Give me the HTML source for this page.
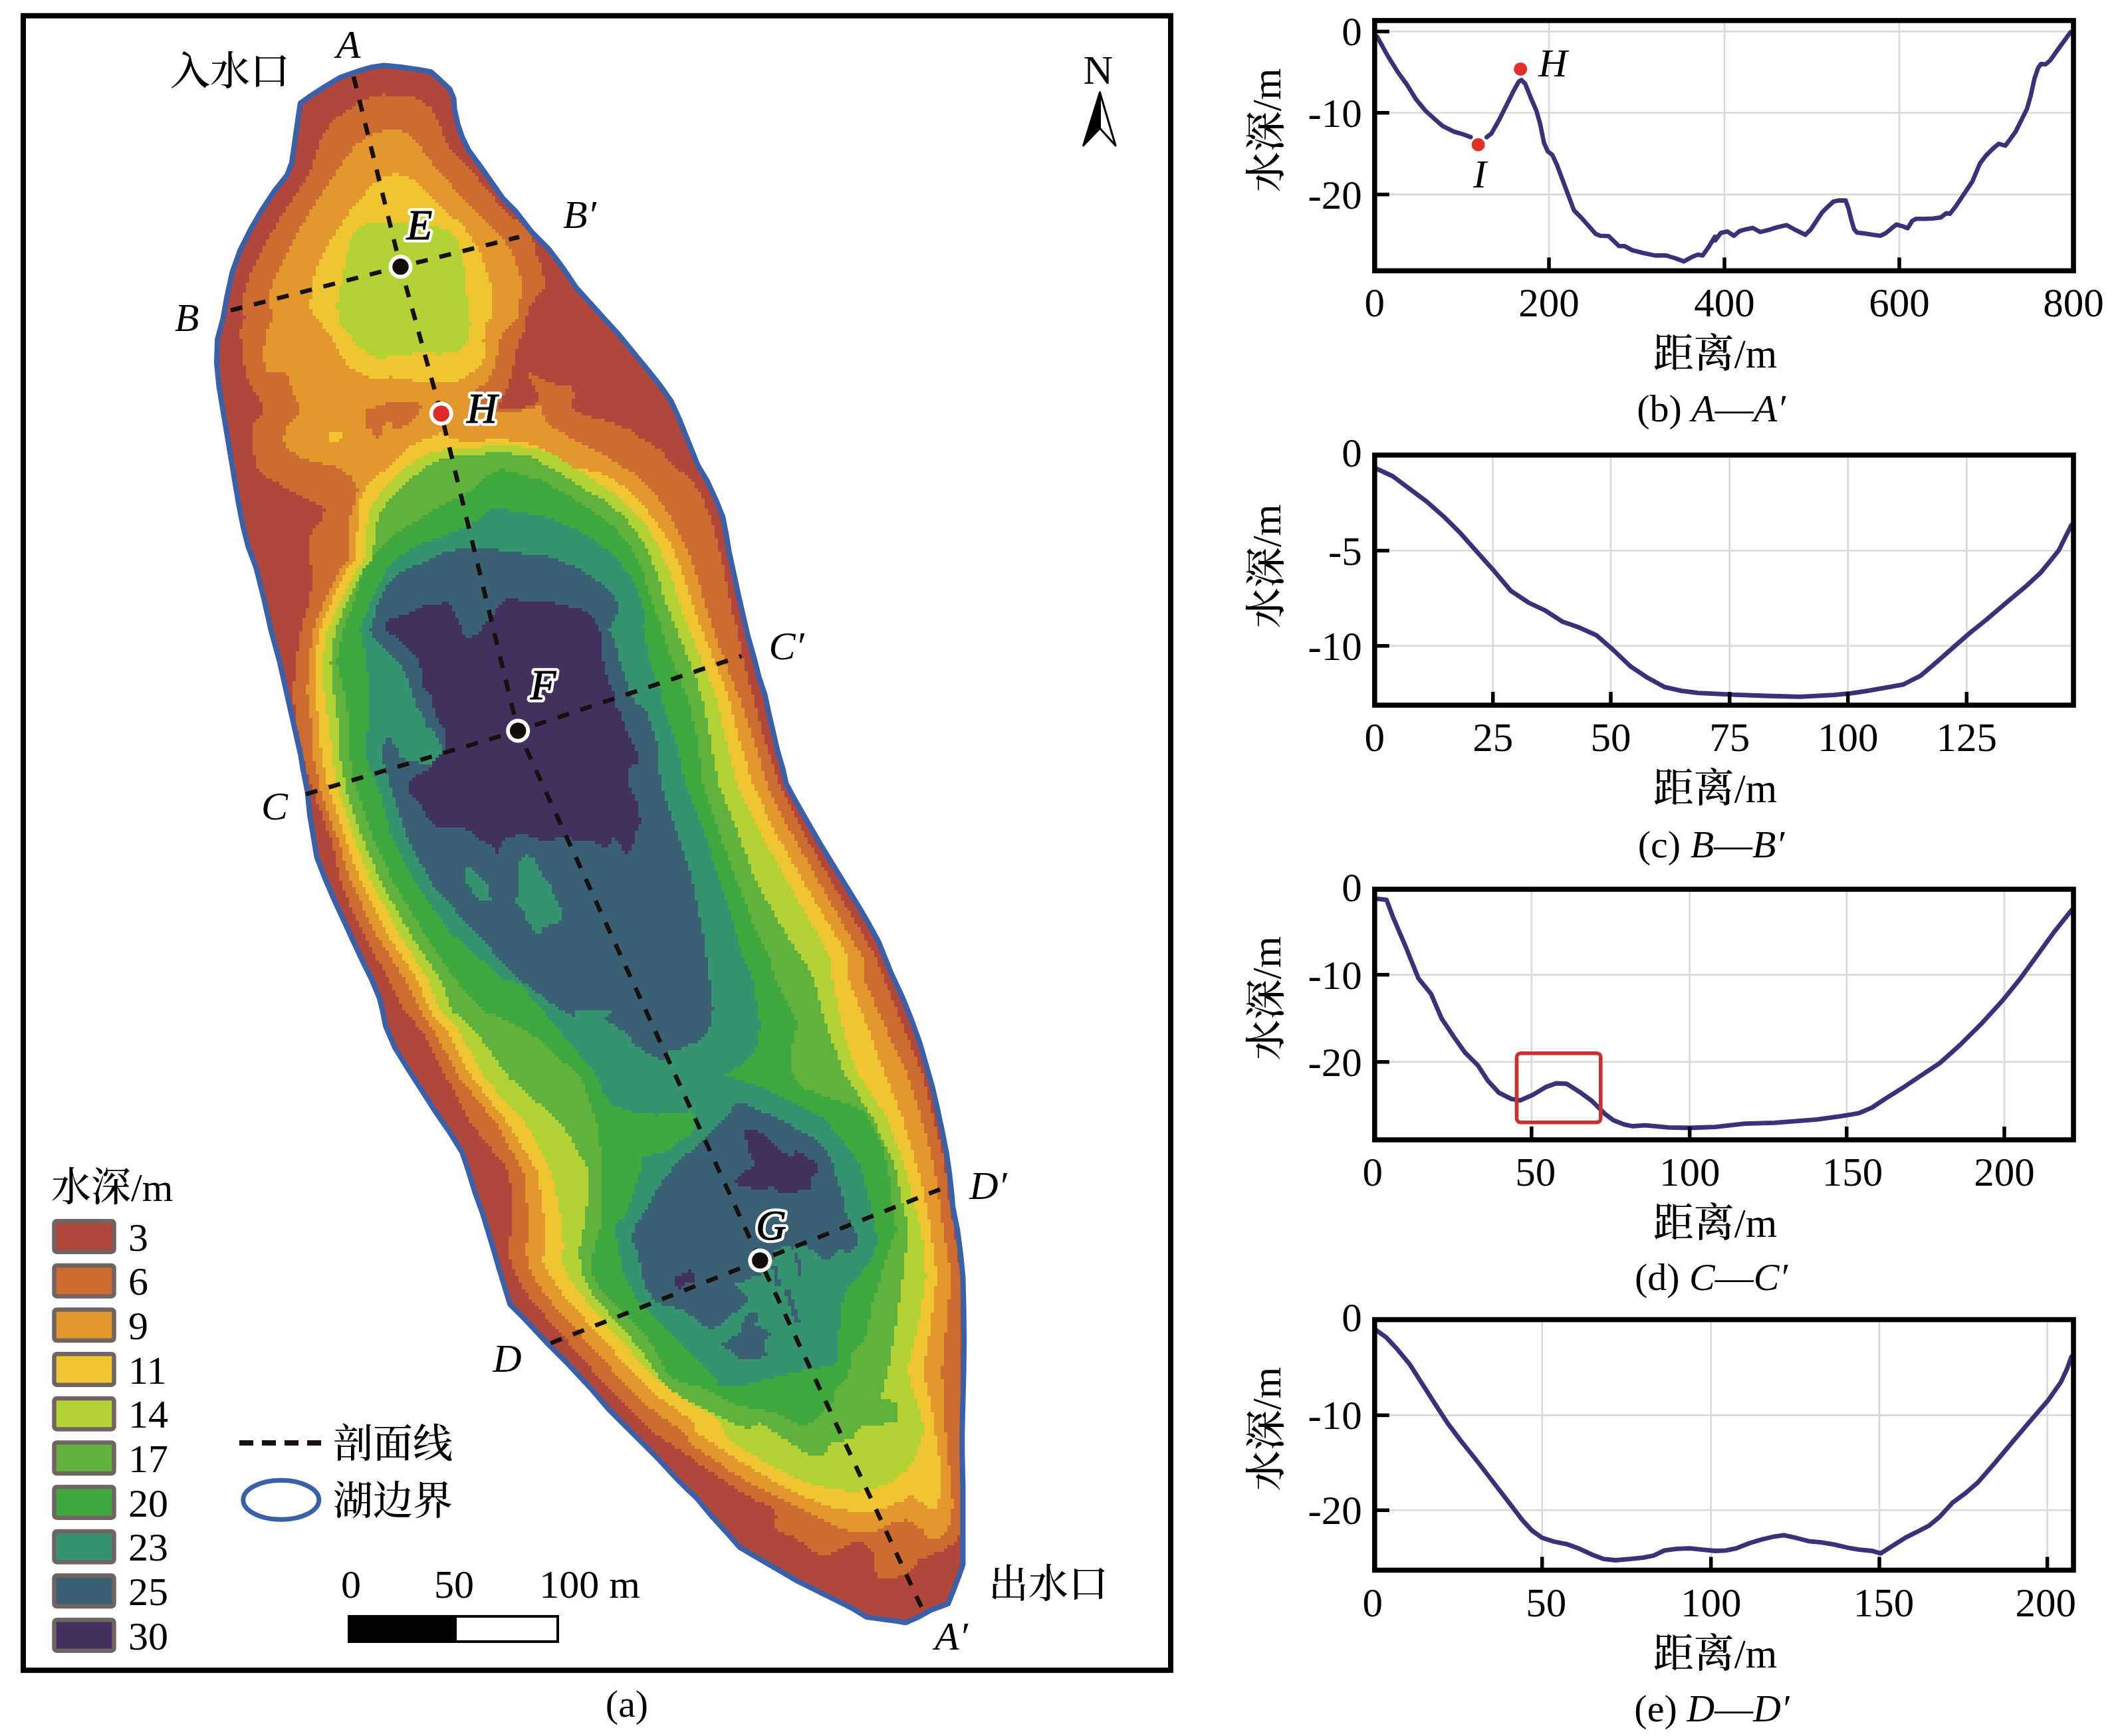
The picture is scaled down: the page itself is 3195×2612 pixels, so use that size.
<!DOCTYPE html>
<html><head><meta charset="utf-8"><title>figure</title>
<style>
html,body{margin:0;padding:0;background:#fff;}
svg{display:block;}
text{font-family:"Liberation Serif","Noto Serif CJK SC",serif;fill:#000;}
.cn{font-family:"Liberation Serif","Noto Serif CJK SC",serif;font-weight:500;}
</style></head><body>
<svg width="3195" height="2612" viewBox="0 0 3195 2612">
<rect width="3195" height="2612" fill="#fff"/>
<g id="map">
<defs><filter id="px" filterUnits="userSpaceOnUse" primitiveUnits="userSpaceOnUse" x="300" y="70" width="1200" height="2400" color-interpolation-filters="sRGB"><feFlood x="302" y="72" width="1" height="1" flood-color="#000"/><feOffset dx="0" dy="0" x="300" y="70" width="5" height="5"/><feTile result="grid"/><feComposite in="SourceGraphic" in2="grid" operator="in"/><feMorphology operator="dilate" radius="2"/></filter><clipPath id="lakeclip"><polygon points="577.8,98.4 601.3,100.7 629.6,104.7 648.4,108.2 660.2,118.8 676.6,134.1 682.5,148.3 683.7,164.7 688.4,185.9 695.5,207.1 704.9,226.0 723.7,251.8 740.2,275.4 756.7,298.9 775.5,317.8 800.1,349.4 826.0,375.3 847.2,403.6 866.0,431.8 887.2,455.4 908.4,478.9 931.9,504.8 953.1,530.7 974.3,556.6 993.1,580.1 1009.6,603.7 1021.4,629.6 1030.8,653.1 1040.2,676.6 1049.6,700.0 1063.7,723.6 1077.8,754.2 1087.2,777.7 1091.9,801.2 1096.6,829.5 1103.7,862.4 1110.8,895.4 1117.8,926.0 1124.9,956.6 1134.3,989.6 1141.4,1017.8 1150.8,1046.1 1155.4,1068.2 1162.5,1098.9 1169.5,1129.5 1177.8,1157.7 1182.5,1178.9 1196.6,1204.8 1215.4,1237.7 1234.3,1270.7 1253.1,1301.3 1271.9,1331.9 1290.8,1362.5 1307.3,1390.8 1321.4,1416.6 1330.8,1440.0 1341.3,1465.9 1357.8,1501.2 1371.9,1536.5 1383.7,1569.5 1393.1,1602.4 1402.5,1635.4 1409.6,1666.0 1416.7,1699.0 1423.7,1734.3 1428.4,1767.2 1432.0,1800.0 1433.1,1815.3 1440.2,1850.6 1444.9,1885.9 1448.4,1921.2 1449.6,1968.3 1450.1,2015.4 1449.6,2062.5 1448.4,2109.6 1447.3,2156.6 1447.3,2180.0 1447.3,2187.1 1448.4,2234.2 1448.4,2304.8 1448.4,2354.2 1442.6,2370.7 1435.5,2389.5 1426.1,2413.1 1400.2,2422.5 1381.4,2433.1 1362.5,2441.3 1348.4,2439.0 1329.6,2436.6 1303.7,2433.1 1282.5,2420.1 1254.2,2406.0 1226.0,2391.9 1197.7,2377.8 1169.5,2361.3 1141.2,2344.8 1113.0,2328.3 1094.2,2307.1 1070.6,2281.2 1047.1,2253.0 1033.1,2240.0 1019.0,2226.1 990.7,2195.5 962.5,2167.2 938.9,2143.7 915.4,2120.1 887.2,2087.2 854.2,2051.9 821.2,2018.9 790.6,1986.0 767.1,1962.4 760.0,1938.9 750.6,1908.3 742.4,1880.0 735.4,1856.6 726.0,1826.0 714.2,1793.1 704.8,1762.5 695.4,1734.2 676.5,1703.6 655.3,1673.0 634.2,1640.1 613.0,1607.1 594.1,1576.5 580.0,1543.6 575.4,1520.0 570.7,1501.4 558.9,1473.1 544.8,1444.9 530.6,1414.3 516.5,1383.7 502.4,1353.1 488.3,1320.1 476.5,1289.5 471.8,1261.2 465.9,1225.9 462.4,1190.6 455.3,1155.3 452.4,1136.6 441.8,1089.6 431.2,1042.5 420.6,995.4 407.7,948.3 397.1,901.2 385.3,854.2 380.0,840.0 373.0,821.4 365.9,793.1 358.9,757.8 353.0,722.5 347.1,687.2 341.2,651.9 335.3,616.6 329.4,581.2 325.9,545.9 327.1,510.6 335.3,480.0 341.2,447.2 349.4,409.6 361.2,376.6 377.7,343.7 394.2,315.4 413.0,287.2 431.8,263.6 438.9,244.8 443.6,211.8 448.3,178.9 451.8,155.3 464.8,145.9 488.3,130.6 511.9,116.5 535.4,108.2 558.9,101.2 577.8,98.4"/></clipPath></defs>
<polygon points="577.8,98.4 601.3,100.7 629.6,104.7 648.4,108.2 660.2,118.8 676.6,134.1 682.5,148.3 683.7,164.7 688.4,185.9 695.5,207.1 704.9,226.0 723.7,251.8 740.2,275.4 756.7,298.9 775.5,317.8 800.1,349.4 826.0,375.3 847.2,403.6 866.0,431.8 887.2,455.4 908.4,478.9 931.9,504.8 953.1,530.7 974.3,556.6 993.1,580.1 1009.6,603.7 1021.4,629.6 1030.8,653.1 1040.2,676.6 1049.6,700.0 1063.7,723.6 1077.8,754.2 1087.2,777.7 1091.9,801.2 1096.6,829.5 1103.7,862.4 1110.8,895.4 1117.8,926.0 1124.9,956.6 1134.3,989.6 1141.4,1017.8 1150.8,1046.1 1155.4,1068.2 1162.5,1098.9 1169.5,1129.5 1177.8,1157.7 1182.5,1178.9 1196.6,1204.8 1215.4,1237.7 1234.3,1270.7 1253.1,1301.3 1271.9,1331.9 1290.8,1362.5 1307.3,1390.8 1321.4,1416.6 1330.8,1440.0 1341.3,1465.9 1357.8,1501.2 1371.9,1536.5 1383.7,1569.5 1393.1,1602.4 1402.5,1635.4 1409.6,1666.0 1416.7,1699.0 1423.7,1734.3 1428.4,1767.2 1432.0,1800.0 1433.1,1815.3 1440.2,1850.6 1444.9,1885.9 1448.4,1921.2 1449.6,1968.3 1450.1,2015.4 1449.6,2062.5 1448.4,2109.6 1447.3,2156.6 1447.3,2180.0 1447.3,2187.1 1448.4,2234.2 1448.4,2304.8 1448.4,2354.2 1442.6,2370.7 1435.5,2389.5 1426.1,2413.1 1400.2,2422.5 1381.4,2433.1 1362.5,2441.3 1348.4,2439.0 1329.6,2436.6 1303.7,2433.1 1282.5,2420.1 1254.2,2406.0 1226.0,2391.9 1197.7,2377.8 1169.5,2361.3 1141.2,2344.8 1113.0,2328.3 1094.2,2307.1 1070.6,2281.2 1047.1,2253.0 1033.1,2240.0 1019.0,2226.1 990.7,2195.5 962.5,2167.2 938.9,2143.7 915.4,2120.1 887.2,2087.2 854.2,2051.9 821.2,2018.9 790.6,1986.0 767.1,1962.4 760.0,1938.9 750.6,1908.3 742.4,1880.0 735.4,1856.6 726.0,1826.0 714.2,1793.1 704.8,1762.5 695.4,1734.2 676.5,1703.6 655.3,1673.0 634.2,1640.1 613.0,1607.1 594.1,1576.5 580.0,1543.6 575.4,1520.0 570.7,1501.4 558.9,1473.1 544.8,1444.9 530.6,1414.3 516.5,1383.7 502.4,1353.1 488.3,1320.1 476.5,1289.5 471.8,1261.2 465.9,1225.9 462.4,1190.6 455.3,1155.3 452.4,1136.6 441.8,1089.6 431.2,1042.5 420.6,995.4 407.7,948.3 397.1,901.2 385.3,854.2 380.0,840.0 373.0,821.4 365.9,793.1 358.9,757.8 353.0,722.5 347.1,687.2 341.2,651.9 335.3,616.6 329.4,581.2 325.9,545.9 327.1,510.6 335.3,480.0 341.2,447.2 349.4,409.6 361.2,376.6 377.7,343.7 394.2,315.4 413.0,287.2 431.8,263.6 438.9,244.8 443.6,211.8 448.3,178.9 451.8,155.3 464.8,145.9 488.3,130.6 511.9,116.5 535.4,108.2 558.9,101.2 577.8,98.4" fill="#b0473a"/>
<g clip-path="url(#lakeclip)"><g filter="url(#px)" shape-rendering="crispEdges">
<rect x="300" y="70" width="1200" height="2400" fill="#b0473a"/>
<polygon points="577.8,142.4 606.0,143.6 629.6,148.3 646.0,160.0 657.8,178.9 664.9,197.7 671.9,216.5 681.4,230.7 700.2,244.8 714.3,263.6 730.8,282.4 747.3,303.6 766.1,322.5 784.9,338.9 800.0,350.7 804.8,377.7 816.6,403.6 818.9,431.8 804.8,450.7 793.0,469.5 790.7,493.0 781.2,511.9 774.2,535.4 771.8,556.6 767.1,570.7 762.4,587.2 753.0,601.3 748.3,613.1 767.1,615.4 786.0,613.1 804.8,608.4 811.8,599.0 804.8,582.5 793.0,566.0 795.4,561.3 809.5,568.4 828.3,575.4 844.8,580.1 861.3,582.5 863.6,596.6 858.9,613.1 875.4,622.5 898.9,629.6 922.5,636.6 946.0,646.0 957.8,655.5 979.0,667.2 997.8,681.4 1011.9,700.0 1042.5,723.6 1059.0,754.2 1070.7,782.4 1077.8,813.0 1087.2,848.3 1094.3,883.6 1101.3,918.9 1110.8,954.3 1117.8,989.6 1127.2,1027.2 1136.6,1060.0 1149.5,1110.6 1173.1,1181.2 1208.4,1251.9 1248.4,1322.5 1290.8,1393.1 1316.7,1440.0 1329.6,1470.6 1357.8,1541.2 1386.1,1611.9 1404.9,1682.5 1421.4,1753.1 1426.1,1800.0 1436.0,1850.6 1444.9,1921.2 1446.3,1991.9 1446.3,2062.5 1444.4,2133.1 1444.4,2180.0 1444.4,2210.6 1444.9,2281.2 1444.9,2309.5 1433.1,2323.6 1419.0,2333.0 1400.2,2340.1 1381.4,2347.2 1376.6,2358.9 1362.5,2368.3 1343.7,2375.4 1324.9,2377.8 1317.8,2366.0 1313.1,2351.9 1313.1,2335.4 1303.7,2323.6 1289.5,2318.9 1277.8,2323.6 1263.7,2330.7 1249.5,2337.7 1233.1,2340.1 1221.3,2333.0 1207.2,2321.3 1193.0,2311.8 1174.2,2304.8 1164.8,2295.4 1169.5,2281.2 1160.1,2267.1 1141.2,2260.1 1117.7,2245.9 1094.2,2231.8 1070.6,2215.3 1047.1,2198.9 1019.0,2179.0 993.1,2162.5 969.5,2143.7 948.4,2122.5 927.2,2101.3 906.0,2077.8 884.8,2054.2 863.6,2030.7 842.4,2004.8 821.2,1981.2 800.1,1957.7 783.6,1934.2 769.5,1901.2 763.6,1880.0 771.9,1833.1 766.0,1762.5 709.5,1691.9 671.8,1621.2 634.2,1550.6 608.3,1520.0 584.8,1473.1 544.8,1402.5 514.2,1331.9 497.7,1261.2 470.6,1190.6 454.8,1136.6 445.3,1089.6 440.6,1042.5 445.3,995.4 452.4,948.3 466.5,901.2 471.2,854.2 462.4,840.0 464.8,816.6 469.5,797.8 483.6,781.3 488.3,764.9 469.5,755.4 450.7,746.0 431.8,736.6 417.7,727.2 398.9,717.8 384.7,698.9 380.0,670.7 377.7,640.1 394.2,623.6 391.8,600.1 377.7,581.2 368.3,557.7 365.9,534.2 361.2,498.9 368.3,480.0 363.6,456.6 370.6,428.4 380.0,404.9 391.8,381.3 403.6,357.8 417.7,334.2 431.8,313.1 446.0,291.9 460.1,268.3 471.8,244.8 478.9,221.2 486.0,202.4 500.1,183.6 516.6,169.5 535.4,157.7 554.2,148.3 577.8,142.4" fill="#cc6c30"/>
<polygon points="594.3,195.3 613.1,200.1 624.9,211.8 639.0,230.7 653.1,249.5 669.6,268.3 686.1,287.2 704.9,306.0 723.7,324.8 742.6,343.7 759.0,362.5 770.8,381.3 780.2,404.9 784.9,428.4 782.6,451.9 777.9,480.0 753.0,507.2 748.3,530.7 743.6,554.2 734.2,573.1 720.0,582.5 710.6,594.3 717.7,606.0 734.2,614.3 748.3,617.8 767.1,619.0 786.0,617.3 804.8,612.6 811.8,608.4 818.9,629.6 828.3,641.3 842.4,648.4 856.6,657.8 875.4,667.2 894.2,676.6 913.1,686.1 931.9,700.0 957.7,714.1 981.3,737.7 1000.1,763.6 1016.6,791.8 1030.7,820.1 1042.5,848.3 1051.9,876.6 1059.0,904.8 1068.4,933.1 1077.8,961.3 1089.6,989.6 1099.0,1017.8 1110.8,1046.1 1115.5,1060.0 1133.1,1110.6 1154.2,1181.2 1189.5,1251.9 1229.6,1322.5 1269.6,1393.1 1297.8,1440.0 1299.0,1470.6 1329.6,1541.2 1362.5,1611.9 1386.1,1682.5 1404.9,1753.1 1412.0,1800.0 1419.0,1850.6 1430.8,1921.2 1423.7,1991.9 1416.7,2062.5 1421.4,2133.1 1423.7,2180.0 1428.4,2210.6 1430.8,2234.2 1433.1,2262.4 1430.8,2286.0 1423.7,2304.8 1414.3,2314.2 1395.5,2314.2 1386.1,2300.1 1371.9,2290.7 1362.5,2286.0 1348.4,2290.7 1331.9,2295.4 1317.8,2304.8 1301.3,2302.4 1282.5,2304.8 1263.7,2300.1 1244.8,2290.7 1226.0,2281.2 1207.2,2271.8 1188.3,2262.4 1164.8,2250.6 1141.2,2238.9 1117.7,2224.7 1094.2,2210.6 1070.6,2194.1 1047.1,2177.7 1019.0,2148.4 995.4,2131.9 971.9,2113.1 950.7,2094.2 929.5,2070.7 908.3,2047.2 887.2,2023.6 866.0,2000.1 844.8,1976.5 823.6,1953.0 807.1,1929.5 793.0,1901.2 791.9,1880.0 795.4,1833.1 787.2,1762.5 747.2,1691.9 690.7,1621.2 653.0,1550.6 631.9,1520.0 608.3,1473.1 563.6,1402.5 530.6,1331.9 507.1,1261.2 482.4,1190.6 471.2,1136.6 468.9,1089.6 461.8,1042.5 464.2,995.4 471.2,948.3 488.9,901.2 513.6,854.2 526.0,840.0 523.6,804.9 526.0,781.3 533.1,757.8 537.8,736.6 530.7,717.8 511.9,706.0 495.4,698.9 474.2,696.6 455.4,689.5 438.9,680.1 424.8,663.6 431.8,642.4 450.7,623.6 450.7,609.5 438.9,586.0 431.8,562.4 398.9,557.7 396.5,534.2 398.9,498.9 410.6,480.0 403.6,447.2 413.0,419.0 427.1,390.7 441.2,362.5 455.4,336.6 469.5,313.1 486.0,289.5 500.1,266.0 516.6,242.4 533.1,221.2 549.5,207.1 570.7,197.7 594.3,195.3" fill="#e3982e"/>
<polygon points="547.2,618.9 570.7,609.5 594.3,604.8 624.9,602.4 634.3,614.2 624.9,628.3 613.1,640.1 594.3,647.2 589.5,635.4 573.1,640.1 573.1,656.6 563.7,658.9 558.9,647.2 549.5,642.4" fill="#cc6c30"/>
<polygon points="464.8,480.0 467.1,451.9 471.8,419.0 478.9,395.4 493.0,369.5 507.2,346.0 523.6,322.5 540.1,301.3 556.6,282.4 573.1,268.3 591.9,261.3 610.7,263.6 629.6,275.4 646.0,291.9 662.5,308.3 679.0,324.8 695.5,338.9 709.6,357.8 721.4,379.0 730.8,402.5 737.9,428.4 740.2,451.9 737.9,480.0 729.5,488.3 727.1,511.9 729.5,535.4 724.7,549.5 710.6,558.9 698.9,570.7 675.3,575.4 651.8,577.8 640.0,575.4 613.1,571.8 587.2,567.1 566.0,571.8 547.2,562.4 526.0,553.0 511.9,534.2 500.1,510.6 483.6,487.1 464.8,463.5" fill="#efc631"/>
<polygon points="662.5,651.9 676.6,658.9 700.2,666.0 723.7,663.6 747.3,658.9 804.8,669.6 828.3,683.7 851.9,700.0 910.7,714.1 938.9,733.0 962.4,754.2 981.3,777.7 997.8,801.2 1011.9,824.8 1021.3,848.3 1030.7,871.9 1037.8,895.4 1044.8,918.9 1054.3,942.5 1063.7,966.0 1073.1,989.6 1082.5,1013.1 1091.9,1036.6 1099.0,1060.0 1111.9,1110.6 1133.1,1181.2 1166.0,1251.9 1206.0,1322.5 1248.4,1393.1 1276.6,1440.0 1275.4,1470.6 1303.7,1541.2 1329.6,1611.9 1357.8,1682.5 1379.0,1753.1 1390.8,1800.0 1400.2,1850.6 1409.6,1921.2 1400.2,1991.9 1388.4,2062.5 1404.9,2133.1 1409.6,2180.0 1414.3,2198.9 1416.7,2222.4 1414.3,2245.9 1409.6,2267.1 1400.2,2271.8 1381.4,2257.7 1369.6,2248.3 1357.8,2257.7 1341.3,2264.8 1324.9,2271.8 1306.0,2276.5 1282.5,2274.2 1258.9,2269.5 1235.4,2262.4 1211.9,2253.0 1188.3,2241.2 1164.8,2229.5 1141.2,2215.3 1117.7,2201.2 1094.2,2187.1 1070.6,2170.6 1047.1,2154.1 1040.2,2136.6 1016.6,2120.1 993.1,2103.7 971.9,2084.8 950.7,2063.6 931.9,2042.4 910.7,2018.9 889.5,1995.4 868.3,1971.8 847.1,1948.3 830.7,1924.7 816.5,1896.5 820.1,1880.0 819.0,1833.1 808.4,1762.5 766.0,1691.9 709.5,1621.2 671.8,1550.6 646.0,1520.0 627.2,1473.1 580.1,1402.5 544.8,1331.9 518.9,1261.2 495.3,1190.6 483.0,1136.6 480.7,1089.6 473.6,1042.5 473.6,995.4 480.7,948.3 500.7,901.2 523.0,854.2 535.4,840.0 537.8,793.1 540.1,757.8 549.5,734.3 570.7,713.1 594.3,694.2 613.1,675.4 629.6,663.6 648.4,658.9 662.5,651.9" fill="#efc631"/>
<polygon points="493.0,649.5 516.6,647.2 516.6,656.6 507.2,666.0 495.4,666.0" fill="#efc631"/>
<polygon points="502.4,480.0 507.2,456.6 511.9,433.1 516.6,409.6 521.3,386.0 526.0,362.5 535.4,346.0 549.5,336.6 570.7,334.2 594.3,335.4 606.0,334.2 624.9,333.1 643.7,336.6 657.8,341.3 671.9,346.0 686.1,357.8 693.1,376.6 697.8,400.2 700.2,423.7 702.5,447.2 704.9,480.0 708.3,488.3 703.6,511.9 694.1,526.0 677.7,530.7 658.8,533.1 640.0,530.7 629.6,531.8 594.3,534.2 570.7,538.9 554.2,531.8 535.4,517.7 526.0,501.2 511.9,487.1 507.2,463.5" fill="#b3d236"/>
<polygon points="676.6,675.4 700.2,675.4 723.7,673.1 747.3,668.3 770.8,670.7 825.9,678.8 854.2,697.7 882.4,714.1 910.7,733.0 936.6,751.8 957.7,773.0 974.2,794.2 988.3,817.7 1000.1,843.6 1009.5,867.2 1016.6,890.7 1023.7,914.2 1033.1,937.8 1042.5,961.3 1051.9,984.9 1061.3,1008.4 1070.7,1031.9 1080.2,1060.0 1090.7,1110.6 1109.5,1181.2 1142.5,1251.9 1182.5,1322.5 1222.5,1393.1 1248.4,1440.0 1251.9,1470.6 1266.0,1541.2 1287.2,1611.9 1334.3,1682.5 1360.2,1753.1 1371.9,1800.0 1386.1,1850.6 1393.1,1921.2 1381.4,1991.9 1364.9,2062.5 1386.1,2133.1 1390.8,2151.8 1383.7,2173.0 1376.6,2191.8 1364.9,2210.6 1348.4,2224.7 1329.6,2234.2 1306.0,2241.2 1282.5,2243.6 1258.9,2241.2 1235.4,2236.5 1211.9,2229.5 1188.3,2220.0 1164.8,2208.3 1141.2,2194.1 1117.7,2180.0 1094.2,2163.5 1080.2,2134.3 1054.3,2120.1 1030.8,2106.0 1007.2,2089.5 986.0,2073.1 967.2,2054.2 948.4,2033.0 927.2,2009.5 908.3,1988.3 889.5,1967.1 870.7,1943.6 854.2,1920.0 842.4,1896.5 848.4,1880.0 843.7,1833.1 829.5,1762.5 791.9,1691.9 728.3,1621.2 690.7,1550.6 662.5,1520.0 643.6,1473.1 598.9,1402.5 561.2,1331.9 533.0,1261.2 509.5,1190.6 499.5,1136.6 494.8,1089.6 487.7,1042.5 485.4,995.4 492.4,948.3 514.8,901.2 537.2,854.2 549.5,840.0 551.9,793.1 556.6,764.9 570.7,743.7 589.5,722.5 610.7,703.7 629.6,689.5 653.1,680.1 676.6,675.4" fill="#b3d236"/>
<polygon points="681.4,687.2 704.9,684.8 728.4,682.5 752.0,680.1 795.3,685.9 825.9,702.4 854.2,718.9 882.4,737.7 910.7,754.2 934.2,773.0 953.0,794.2 967.2,815.4 978.9,838.9 988.3,862.4 995.4,886.0 1002.5,909.5 1011.9,933.1 1021.3,956.6 1030.7,980.2 1040.1,1003.7 1049.5,1027.2 1059.0,1060.0 1068.3,1110.6 1081.3,1181.2 1109.5,1251.9 1135.4,1322.5 1175.0,1393.1 1205.1,1440.0 1223.6,1470.6 1242.5,1541.2 1268.4,1611.9 1313.1,1682.5 1346.0,1753.1 1355.5,1800.0 1367.2,1850.6 1357.8,1921.2 1348.4,1991.9 1336.6,2062.5 1324.9,2104.9 1348.4,2109.6 1348.4,2133.1 1353.1,2140.0 1329.6,2142.4 1306.0,2144.7 1289.5,2149.4 1282.5,2163.5 1258.9,2170.6 1244.8,2173.0 1242.5,2187.1 1226.0,2191.8 1207.2,2184.7 1188.3,2170.6 1164.8,2154.1 1141.2,2140.0 1127.3,2150.7 1099.0,2139.0 1073.1,2127.2 1047.2,2113.1 1023.7,2101.3 1004.9,2089.5 990.7,2073.1 979.0,2051.9 962.5,2030.7 943.7,2007.1 924.8,1986.0 906.0,1964.8 887.2,1941.2 873.0,1910.6 871.9,1880.0 881.3,1833.1 886.0,1762.5 846.0,1691.9 766.0,1621.2 714.2,1550.6 678.9,1520.0 662.5,1473.1 615.4,1402.5 575.4,1331.9 544.8,1261.2 521.2,1190.6 511.3,1136.6 508.9,1089.6 501.8,1042.5 497.1,995.4 504.2,948.3 524.2,901.2 547.7,854.2 561.3,840.0 563.7,797.8 573.1,769.6 587.2,750.7 606.0,731.9 624.9,715.4 641.3,701.3 660.2,691.9 681.4,687.2" fill="#60b23c"/>
<polygon points="756.6,705.9 816.5,723.6 844.7,740.0 873.0,756.5 901.2,775.3 924.8,794.2 943.6,815.4 955.4,836.6 967.2,860.1 974.2,883.6 981.3,907.2 990.7,930.7 997.8,954.3 1004.8,977.8 1014.2,1001.3 1023.7,1024.9 1033.1,1048.4 1037.8,1060.0 1048.3,1110.6 1057.7,1181.2 1081.3,1251.9 1107.2,1322.5 1134.5,1393.1 1158.0,1440.0 1164.8,1470.6 1200.1,1541.2 1188.3,1588.3 1188.3,1611.9 1207.2,1635.4 1240.1,1649.5 1301.3,1670.7 1313.1,1694.3 1329.6,1729.6 1339.0,1776.6 1341.3,1800.0 1341.3,1815.3 1348.4,1850.6 1334.3,1885.9 1324.9,1921.2 1313.1,1956.6 1306.0,1991.9 1301.3,2015.4 1282.5,2034.2 1279.0,2056.6 1272.4,2073.1 1255.9,2094.5 1252.6,2109.1 1239.4,2125.6 1222.9,2139.0 1206.5,2145.6 1190.0,2139.0 1173.5,2128.9 1148.8,2122.3 1124.1,2117.3 1099.3,2111.0 1074.6,2095.9 1049.9,2086.0 1033.1,2082.5 1014.3,2075.4 1000.2,2063.6 990.7,2040.1 976.6,2016.6 957.8,1995.4 938.9,1976.5 920.1,1957.7 901.3,1938.9 889.5,1910.6 893.1,1880.0 907.2,1833.1 907.2,1762.5 897.8,1691.9 874.3,1621.2 794.2,1550.6 726.0,1520.0 683.7,1473.1 636.6,1402.5 594.2,1331.9 561.2,1261.2 537.7,1190.6 525.4,1136.6 525.4,1089.6 518.3,1042.5 506.6,995.4 516.0,948.3 534.8,901.2 545.7,858.5 568.3,828.3 590.9,805.7 621.1,786.9 651.2,768.1 681.3,753.0 711.5,737.9 730.3,715.3 756.6,705.9" fill="#3fa940"/>
<polygon points="737.8,764.3 756.6,766.2 811.8,775.3 840.0,784.8 865.9,796.5 891.8,810.7 915.4,829.5 934.2,848.3 948.3,867.2 957.7,886.0 964.8,904.8 969.5,923.7 967.2,942.5 971.9,966.0 976.6,989.6 983.6,1013.1 993.1,1036.6 997.8,1060.0 1015.3,1110.6 1031.8,1181.2 1060.1,1251.9 1081.3,1322.5 1104.8,1393.1 1116.6,1440.0 1131.8,1470.6 1143.6,1541.2 1141.2,1564.8 1131.8,1586.0 1113.0,1602.4 1089.5,1618.9 1117.7,1626.0 1146.0,1635.4 1169.5,1647.2 1193.0,1658.9 1216.6,1670.7 1240.1,1682.5 1258.9,1706.0 1277.8,1729.6 1294.3,1753.1 1306.0,1800.0 1313.1,1827.1 1320.2,1869.5 1310.7,1897.7 1289.5,1921.2 1270.7,1944.8 1263.7,1980.1 1261.3,2015.4 1258.9,2050.7 1235.4,2057.8 1207.2,2062.5 1178.9,2069.5 1150.7,2076.6 1117.7,2083.7 1084.7,2086.0 1066.1,2061.3 1047.2,2042.4 1028.4,2026.0 1009.6,2009.5 990.7,1990.7 974.3,1971.8 957.8,1953.0 946.0,1934.2 936.6,1910.6 931.9,1887.1 927.2,1863.5 924.8,1840.0 940.2,1833.1 963.7,1762.5 966.1,1738.9 987.3,1736.6 1006.1,1729.5 1024.9,1715.4 1040.0,1706.0 1048.5,1691.9 1040.0,1670.7 1022.6,1675.4 987.3,1677.7 949.6,1673.0 921.4,1663.6 907.2,1644.8 900.2,1621.2 841.3,1550.6 782.5,1480.0 756.6,1473.1 676.6,1402.5 627.2,1331.9 589.5,1261.2 570.7,1190.6 548.9,1136.6 553.6,1089.6 556.0,1042.5 551.3,995.4 541.9,948.3 558.3,901.2 579.6,858.5 602.2,835.9 628.6,820.8 658.7,809.5 688.9,798.2 719.0,783.1 737.8,764.3" fill="#35946f"/>
<polygon points="671.0,830.6 700.0,824.6 741.6,826.4 777.0,832.0 807.0,834.0 830.6,838.9 854.2,848.3 877.7,860.1 896.5,871.9 913.0,886.0 927.1,902.5 929.5,918.9 922.4,933.1 915.4,947.2 924.8,966.0 929.5,984.9 934.2,1003.7 941.3,1022.5 948.3,1041.4 955.4,1060.0 970.6,1063.5 987.1,1110.6 994.2,1181.2 1017.7,1251.9 1041.2,1322.5 1055.4,1393.1 1062.4,1440.0 1056.5,1400.0 1063.6,1447.1 1068.3,1482.4 1073.0,1517.7 1070.6,1541.2 1054.1,1564.8 1023.5,1578.9 1000.0,1583.6 1001.3,1595.5 978.7,1587.9 956.1,1572.9 941.1,1554.0 918.5,1539.0 895.9,1531.5 862.0,1527.7 843.7,1520.0 780.2,1473.1 714.3,1402.5 650.7,1331.9 613.0,1261.2 589.5,1190.6 572.5,1132.0 584.0,1108.0 600.7,1127.0 603.0,1141.0 640.0,1150.0 669.0,1141.0 660.0,1113.0 652.5,1099.0 643.1,1094.3 636.0,1077.8 626.6,1061.3 619.5,1042.5 612.5,1018.9 603.1,1000.1 588.9,986.0 579.5,976.6 565.4,962.4 556.0,948.3 560.7,938.9 565.4,913.0 577.2,891.8 588.9,870.6 612.5,854.2 647.8,842.4" fill="#3a6073"/>
<polygon points="1011.0,1758.0 1030.6,1739.0 1047.0,1725.0 1066.0,1706.0 1094.0,1678.0 1106.0,1661.0 1125.0,1661.0 1141.0,1671.0 1165.0,1680.0 1188.0,1692.0 1212.0,1706.0 1235.0,1720.0 1247.0,1739.0 1254.0,1753.0 1259.0,1777.0 1268.0,1800.0 1273.0,1827.0 1289.0,1858.0 1289.0,1874.0 1280.0,1884.0 1259.0,1881.0 1249.0,1893.0 1235.0,1893.0 1226.0,1884.0 1207.0,1874.0 1193.0,1879.0 1179.0,1874.0 1165.0,1884.0 1160.0,1902.0 1141.0,1919.0 1122.0,1926.0 1106.0,1933.0 1118.0,1945.0 1127.0,1959.0 1113.0,1968.0 1099.0,1980.0 1085.0,1992.0 1070.0,1999.0 1056.0,1992.0 1042.0,1982.0 1023.0,1968.0 1005.0,1967.0 986.0,1958.0 977.0,1944.0 969.0,1934.0 965.0,1911.0 960.0,1887.0 951.0,1868.0 955.0,1840.0 964.0,1833.0 985.0,1795.0" fill="#3a6073"/>
<polygon points="1084.7,2024.8 1098.9,2013.1 1115.3,2006.0 1117.7,1987.2 1127.1,1973.0 1141.2,1975.4 1136.5,1991.9 1150.7,2001.3 1162.4,2008.3 1150.7,2017.8 1153.0,2038.9 1141.2,2046.0 1110.6,2046.0 1103.6,2034.2" fill="#3a6073"/>
<polygon points="1194.2,1883.6 1200.1,1883.6 1207.2,1921.2 1201.3,1921.2" fill="#3a6073"/>
<polygon points="1162.4,1907.1 1169.5,1907.1 1174.2,1933.0 1167.1,1933.0" fill="#3a6073"/>
<polygon points="1177.7,1937.7 1186.0,1937.7 1204.8,1991.9 1197.7,1991.9" fill="#3a6073"/>
<polygon points="697.8,1303.6 709.5,1303.6 723.7,1322.4 735.4,1331.9 737.8,1353.1 719.0,1355.4 711.9,1341.3 702.5,1331.9 697.8,1315.4" fill="#35946f"/>
<polygon points="777.8,1296.6 791.9,1284.8 806.1,1294.2 815.5,1317.7 829.6,1331.9 834.3,1350.7 843.7,1364.8 843.7,1386.0 829.6,1390.7 815.5,1397.8 810.8,1407.2 803.7,1404.8 799.0,1390.7 789.6,1383.7 787.2,1367.2 773.1,1357.8 782.5,1343.6 780.2,1320.1" fill="#35946f"/>
<polygon points="864.9,1522.4 881.3,1517.7 921.4,1517.7 916.6,1527.1 907.2,1538.9 893.1,1534.1 879.0,1529.4 869.6,1531.8" fill="#35946f"/>
<polygon points="579.5,934.0 608.0,925.0 636.0,911.0 676.0,906.0 683.0,922.0 692.0,939.0 700.0,960.0 718.0,955.0 730.0,939.0 749.0,915.0 765.0,899.0 783.0,904.0 807.0,905.0 831.0,907.0 854.0,912.0 873.0,917.0 889.0,926.0 899.0,940.0 904.0,957.0 906.0,978.0 908.0,999.0 913.0,1018.0 922.0,1037.0 925.0,1060.0 935.0,1075.0 947.0,1111.0 961.0,1134.0 961.0,1151.0 945.0,1153.0 947.0,1186.0 959.0,1205.0 964.0,1240.0 954.0,1252.0 952.0,1275.0 942.0,1285.0 935.0,1275.0 923.0,1261.0 916.0,1275.0 905.0,1273.0 891.0,1266.0 867.0,1266.0 858.0,1259.0 839.0,1261.0 820.0,1268.0 806.0,1261.0 787.0,1256.0 764.0,1259.0 754.0,1271.0 750.0,1282.0 745.0,1285.0 742.0,1271.0 724.0,1266.0 714.0,1256.0 698.0,1247.0 679.0,1247.0 655.0,1245.0 641.0,1231.0 632.0,1209.0 615.0,1195.0 613.0,1175.0 645.0,1158.0 655.0,1142.0 671.0,1127.0 669.0,1099.0 660.0,1085.0 652.0,1066.0 648.0,1047.0 636.0,1031.0 634.0,1010.0 629.0,991.0 617.0,977.0 601.0,962.0 579.5,948.0" fill="#42305e"/>
<polygon points="1120.1,1699.0 1136.5,1699.0 1150.7,1708.4 1164.8,1722.5 1174.2,1734.3 1193.0,1739.0 1197.7,1731.9 1207.2,1734.3 1211.9,1741.3 1226.0,1746.0 1230.7,1760.2 1221.3,1771.9 1221.3,1786.1 1211.9,1790.8 1193.0,1793.1 1169.5,1795.5 1164.8,1786.1 1146.0,1788.4 1110.6,1786.1 1105.9,1776.6 1117.7,1764.9 1136.5,1753.1 1127.1,1734.3 1122.4,1715.4" fill="#42305e"/>
<polygon points="1014.3,1924.7 1026.0,1915.3 1040.2,1910.6 1044.9,1920.0 1042.5,1929.5 1028.4,1931.8 1021.3,1938.9 1014.3,1934.2" fill="#42305e"/>
</g></g>
<polygon points="577.8,98.4 601.3,100.7 629.6,104.7 648.4,108.2 660.2,118.8 676.6,134.1 682.5,148.3 683.7,164.7 688.4,185.9 695.5,207.1 704.9,226.0 723.7,251.8 740.2,275.4 756.7,298.9 775.5,317.8 800.1,349.4 826.0,375.3 847.2,403.6 866.0,431.8 887.2,455.4 908.4,478.9 931.9,504.8 953.1,530.7 974.3,556.6 993.1,580.1 1009.6,603.7 1021.4,629.6 1030.8,653.1 1040.2,676.6 1049.6,700.0 1063.7,723.6 1077.8,754.2 1087.2,777.7 1091.9,801.2 1096.6,829.5 1103.7,862.4 1110.8,895.4 1117.8,926.0 1124.9,956.6 1134.3,989.6 1141.4,1017.8 1150.8,1046.1 1155.4,1068.2 1162.5,1098.9 1169.5,1129.5 1177.8,1157.7 1182.5,1178.9 1196.6,1204.8 1215.4,1237.7 1234.3,1270.7 1253.1,1301.3 1271.9,1331.9 1290.8,1362.5 1307.3,1390.8 1321.4,1416.6 1330.8,1440.0 1341.3,1465.9 1357.8,1501.2 1371.9,1536.5 1383.7,1569.5 1393.1,1602.4 1402.5,1635.4 1409.6,1666.0 1416.7,1699.0 1423.7,1734.3 1428.4,1767.2 1432.0,1800.0 1433.1,1815.3 1440.2,1850.6 1444.9,1885.9 1448.4,1921.2 1449.6,1968.3 1450.1,2015.4 1449.6,2062.5 1448.4,2109.6 1447.3,2156.6 1447.3,2180.0 1447.3,2187.1 1448.4,2234.2 1448.4,2304.8 1448.4,2354.2 1442.6,2370.7 1435.5,2389.5 1426.1,2413.1 1400.2,2422.5 1381.4,2433.1 1362.5,2441.3 1348.4,2439.0 1329.6,2436.6 1303.7,2433.1 1282.5,2420.1 1254.2,2406.0 1226.0,2391.9 1197.7,2377.8 1169.5,2361.3 1141.2,2344.8 1113.0,2328.3 1094.2,2307.1 1070.6,2281.2 1047.1,2253.0 1033.1,2240.0 1019.0,2226.1 990.7,2195.5 962.5,2167.2 938.9,2143.7 915.4,2120.1 887.2,2087.2 854.2,2051.9 821.2,2018.9 790.6,1986.0 767.1,1962.4 760.0,1938.9 750.6,1908.3 742.4,1880.0 735.4,1856.6 726.0,1826.0 714.2,1793.1 704.8,1762.5 695.4,1734.2 676.5,1703.6 655.3,1673.0 634.2,1640.1 613.0,1607.1 594.1,1576.5 580.0,1543.6 575.4,1520.0 570.7,1501.4 558.9,1473.1 544.8,1444.9 530.6,1414.3 516.5,1383.7 502.4,1353.1 488.3,1320.1 476.5,1289.5 471.8,1261.2 465.9,1225.9 462.4,1190.6 455.3,1155.3 452.4,1136.6 441.8,1089.6 431.2,1042.5 420.6,995.4 407.7,948.3 397.1,901.2 385.3,854.2 380.0,840.0 373.0,821.4 365.9,793.1 358.9,757.8 353.0,722.5 347.1,687.2 341.2,651.9 335.3,616.6 329.4,581.2 325.9,545.9 327.1,510.6 335.3,480.0 341.2,447.2 349.4,409.6 361.2,376.6 377.7,343.7 394.2,315.4 413.0,287.2 431.8,263.6 438.9,244.8 443.6,211.8 448.3,178.9 451.8,155.3 464.8,145.9 488.3,130.6 511.9,116.5 535.4,108.2 558.9,101.2 577.8,98.4" fill="none" stroke="#3a60a8" stroke-width="8" stroke-linejoin="round"/>
<polyline points="531.9,115.3 602.5,401.3 663.7,622.4 779.2,1099.5 1143.3,1896.5 1386.0,2417.8" fill="none" stroke="#17100c" stroke-width="6.5" stroke-dasharray="18 18"/>
<polyline points="347.0,467.0 602.5,401.3 781.0,356.5" fill="none" stroke="#17100c" stroke-width="6.5" stroke-dasharray="18 18"/>
<polyline points="460.0,1195.0 779.2,1099.5 1115.5,987.0" fill="none" stroke="#17100c" stroke-width="6.5" stroke-dasharray="18 18"/>
<polyline points="828.3,2021.0 1143.3,1896.5 1414.0,1789.4" fill="none" stroke="#17100c" stroke-width="6.5" stroke-dasharray="18 18"/>
<circle cx="602.5" cy="401.3" r="18" fill="#fff"/><circle cx="602.5" cy="401.3" r="12.2" fill="#120c0a"/>
<circle cx="663.7" cy="622.4" r="18" fill="#fff"/><circle cx="663.7" cy="622.4" r="12.2" fill="#e02a2a"/>
<circle cx="779.2" cy="1099.5" r="18" fill="#fff"/><circle cx="779.2" cy="1099.5" r="12.2" fill="#120c0a"/>
<circle cx="1143.3" cy="1896.5" r="18" fill="#fff"/><circle cx="1143.3" cy="1896.5" r="12.2" fill="#120c0a"/>
<text x="631" y="360" font-size="63" font-style="italic" text-anchor="middle" fill="#fff" stroke="#fff" stroke-width="9.5" stroke-linejoin="round">E</text>
<text x="631" y="360" font-size="63" font-style="italic" text-anchor="middle" stroke="#000" stroke-width="1.2" stroke-linejoin="round">E</text>
<text x="725" y="636" font-size="63" font-style="italic" text-anchor="middle" fill="#fff" stroke="#fff" stroke-width="9.5" stroke-linejoin="round">H</text>
<text x="725" y="636" font-size="63" font-style="italic" text-anchor="middle" stroke="#000" stroke-width="1.2" stroke-linejoin="round">H</text>
<text x="817" y="1052" font-size="63" font-style="italic" text-anchor="middle" fill="#fff" stroke="#fff" stroke-width="9.5" stroke-linejoin="round">F</text>
<text x="817" y="1052" font-size="63" font-style="italic" text-anchor="middle" stroke="#000" stroke-width="1.2" stroke-linejoin="round">F</text>
<text x="1160" y="1865" font-size="63" font-style="italic" text-anchor="middle" fill="#fff" stroke="#fff" stroke-width="9.5" stroke-linejoin="round">G</text>
<text x="1160" y="1865" font-size="63" font-style="italic" text-anchor="middle" stroke="#000" stroke-width="1.2" stroke-linejoin="round">G</text>
<text x="524" y="87" font-size="60" font-style="italic" text-anchor="middle">A</text>
<text x="281" y="498" font-size="60" font-style="italic" text-anchor="middle">B</text>
<text x="872" y="343" font-size="60" font-style="italic" text-anchor="middle">B′</text>
<text x="413" y="1233" font-size="60" font-style="italic" text-anchor="middle">C</text>
<text x="1183" y="992" font-size="60" font-style="italic" text-anchor="middle">C′</text>
<text x="763" y="2064" font-size="60" font-style="italic" text-anchor="middle">D</text>
<text x="1486.5" y="1803.5" font-size="60" font-style="italic" text-anchor="middle">D′</text>
<text x="1431" y="2482" font-size="60" font-style="italic" text-anchor="middle">A′</text>
<text x="346" y="128" font-size="60" text-anchor="middle" class="cn">入水口</text>
<text x="1577" y="2404" font-size="60" text-anchor="middle" class="cn">出水口</text>
<text x="1652" y="126" font-size="62" text-anchor="middle">N</text>
<polygon points="1654.5,139 1678,219 1654.5,193" fill="#fff" stroke="#000" stroke-width="3" stroke-linejoin="round"/>
<polygon points="1654.5,139 1629.6,219 1654.5,193" fill="#000" stroke="#000" stroke-width="3" stroke-linejoin="round"/>
<text x="77" y="1807" font-size="60"><tspan class="cn">水深</tspan>/m</text>
<rect x="81.5" y="1837.2" width="90" height="46.5" rx="4" fill="#b0473a" stroke="#716360" stroke-width="6.5"/>
<text x="193" y="1881.5" font-size="60">3</text>
<rect x="81.5" y="1903.9" width="90" height="46.5" rx="4" fill="#cc6c30" stroke="#716360" stroke-width="6.5"/>
<text x="193" y="1948.2" font-size="60">6</text>
<rect x="81.5" y="1970.5" width="90" height="46.5" rx="4" fill="#e3982e" stroke="#716360" stroke-width="6.5"/>
<text x="193" y="2014.8" font-size="60">9</text>
<rect x="81.5" y="2037.2" width="90" height="46.5" rx="4" fill="#efc631" stroke="#716360" stroke-width="6.5"/>
<text x="193" y="2081.5" font-size="60">11</text>
<rect x="81.5" y="2103.9" width="90" height="46.5" rx="4" fill="#b3d236" stroke="#716360" stroke-width="6.5"/>
<text x="193" y="2148.2" font-size="60">14</text>
<rect x="81.5" y="2170.5" width="90" height="46.5" rx="4" fill="#60b23c" stroke="#716360" stroke-width="6.5"/>
<text x="193" y="2214.8" font-size="60">17</text>
<rect x="81.5" y="2237.2" width="90" height="46.5" rx="4" fill="#3fa940" stroke="#716360" stroke-width="6.5"/>
<text x="193" y="2281.5" font-size="60">20</text>
<rect x="81.5" y="2303.9" width="90" height="46.5" rx="4" fill="#35946f" stroke="#716360" stroke-width="6.5"/>
<text x="193" y="2348.2" font-size="60">23</text>
<rect x="81.5" y="2370.6" width="90" height="46.5" rx="4" fill="#3a6073" stroke="#716360" stroke-width="6.5"/>
<text x="193" y="2414.9" font-size="60">25</text>
<rect x="81.5" y="2437.2" width="90" height="46.5" rx="4" fill="#42305e" stroke="#716360" stroke-width="6.5"/>
<text x="193" y="2481.5" font-size="60">30</text>
<line x1="360" y1="2171" x2="488" y2="2171" stroke="#17100c" stroke-width="8" stroke-dasharray="21 13"/>
<text x="501" y="2193" font-size="60" class="cn">剖面线</text>
<ellipse cx="422.8" cy="2256.7" rx="57" ry="29.5" fill="none" stroke="#3a60a8" stroke-width="7"/>
<text x="501" y="2279" font-size="60" class="cn">湖边界</text>
<text x="528" y="2404" font-size="60" text-anchor="middle">0</text>
<text x="683" y="2404" font-size="60" text-anchor="middle">50</text>
<text x="887" y="2404" font-size="60" text-anchor="middle">100 m</text>
<rect x="525" y="2432" width="314" height="38" fill="#fff" stroke="#000" stroke-width="4"/>
<rect x="525" y="2432" width="162" height="38" fill="#000"/>
<rect x="35" y="23.7" width="1726" height="2489.4" fill="none" stroke="#000" stroke-width="8"/>
<text x="943" y="2583" font-size="58" text-anchor="middle">(a)</text>
</g>
<line x1="2067.8" y1="47.4" x2="3119.0" y2="47.4" stroke="#ddd8d8" stroke-width="2.6"/>
<line x1="2067.8" y1="169.7" x2="3119.0" y2="169.7" stroke="#ddd8d8" stroke-width="2.6"/>
<line x1="2067.8" y1="292.6" x2="3119.0" y2="292.6" stroke="#ddd8d8" stroke-width="2.6"/>
<line x1="2330" y1="30.9" x2="2330" y2="407.4" stroke="#ddd8d8" stroke-width="2.6"/>
<line x1="2594" y1="30.9" x2="2594" y2="407.4" stroke="#ddd8d8" stroke-width="2.6"/>
<line x1="2857" y1="30.9" x2="2857" y2="407.4" stroke="#ddd8d8" stroke-width="2.6"/>
<polyline points="2236.3,206.4 2243.4,200.8 2254.7,181.0 2266.0,158.4 2277.3,135.8 2284.4,123.1 2288.6,120.3 2294.2,125.9 2302.7,147.1 2311.2,166.9 2316.8,186.7 2322.5,214.9 2328.1,227.6 2335.2,233.3 2342.3,248.8 2350.7,271.4 2359.2,294.0 2367.7,316.6 2379.0,327.9 2390.3,340.6 2400.2,351.9 2407.2,354.7 2419.9,355.3 2435.5,370.3 2444.0,370.3 2455.3,376.5 2472.2,380.7 2489.2,384.4 2506.1,384.4 2520.2,388.6 2532.9,393.4 2545.6,386.4 2554.1,383.0 2561.2,384.4 2571.1,370.3 2579.5,356.2 2580.0,361.8 2588.5,350.5 2598.4,348.2 2608.2,354.7 2616.7,347.7 2626.6,344.9 2636.5,342.9 2647.8,349.1 2659.1,346.3 2673.2,342.0 2687.3,338.6 2701.5,346.3 2715.6,353.3 2724.1,344.9 2732.5,332.1 2741.0,319.4 2749.5,311.0 2758.0,303.3 2766.4,301.6 2776.3,301.6 2780.6,313.8 2784.8,330.7 2789.0,344.9 2793.3,349.9 2803.2,351.1 2817.3,353.3 2828.6,354.7 2837.1,350.5 2845.5,343.4 2852.6,337.8 2862.5,340.6 2869.5,343.4 2876.6,332.1 2882.3,329.3 2896.4,329.3 2907.7,328.8 2919.0,327.3 2927.5,320.8 2933.1,321.7 2941.6,311.0 2952.9,294.0 2967.0,272.8 2978.3,246.0 2986.8,234.7 2998.1,223.4 3006.6,216.3 3016.4,219.2 3024.9,207.9 3032.0,198.0 3040.5,181.0 3048.9,164.1 3054.6,144.3 3060.2,118.9 3065.9,101.9 3070.1,96.3 3077.2,96.8 3084.2,90.6 3094.1,76.5 3105.4,61.0 3114.7,48.2" fill="none" stroke="#3a3178" stroke-width="6.6" stroke-linejoin="round" stroke-linecap="round"/>
<polyline points="2071.6,55.3 2088.0,85.0 2102.1,107.6 2116.3,127.3 2130.4,149.9 2144.5,166.9 2158.6,179.6 2169.9,189.5 2186.9,198.0 2201.0,202.2 2212.3,206.4" fill="none" stroke="#3a3178" stroke-width="6.6" stroke-linejoin="round" stroke-linecap="round"/><circle cx="2287.2" cy="103.9" r="10" fill="#e0302a"/><circle cx="2223.6" cy="217.7" r="10" fill="#e0302a"/><text x="2336" y="115" font-size="60" font-style="italic" text-anchor="middle">H</text><text x="2226" y="282" font-size="60" font-style="italic" text-anchor="middle">I</text>
<rect x="2067.8" y="30.9" width="1051.1999999999998" height="376.5" fill="none" stroke="#000" stroke-width="7.6"/>
<line x1="2067.8" y1="47.4" x2="2089.8" y2="47.4" stroke="#000" stroke-width="5.5"/>
<text x="2048.8" y="68.4" font-size="61" text-anchor="end">0</text>
<line x1="2067.8" y1="169.7" x2="2089.8" y2="169.7" stroke="#000" stroke-width="5.5"/>
<text x="2048.8" y="190.7" font-size="61" text-anchor="end">-10</text>
<line x1="2067.8" y1="292.6" x2="2089.8" y2="292.6" stroke="#000" stroke-width="5.5"/>
<text x="2048.8" y="313.6" font-size="61" text-anchor="end">-20</text>
<text x="2067.8" y="476.4" font-size="61" text-anchor="middle">0</text>
<line x1="2330" y1="407.4" x2="2330" y2="387.4" stroke="#000" stroke-width="5.5"/>
<text x="2330" y="476.4" font-size="61" text-anchor="middle">200</text>
<line x1="2594" y1="407.4" x2="2594" y2="387.4" stroke="#000" stroke-width="5.5"/>
<text x="2594" y="476.4" font-size="61" text-anchor="middle">400</text>
<line x1="2857" y1="407.4" x2="2857" y2="387.4" stroke="#000" stroke-width="5.5"/>
<text x="2857" y="476.4" font-size="61" text-anchor="middle">600</text>
<text x="3119" y="476.4" font-size="61" text-anchor="middle">800</text>
<text transform="translate(1926,196) rotate(-90)" font-size="61" text-anchor="middle" ><tspan class="cn">水深</tspan>/m</text>
<text x="2580" y="553.4" font-size="61" text-anchor="middle" ><tspan class="cn">距离</tspan>/m</text>
<text x="2574" y="634" font-size="58" text-anchor="middle">(b) <tspan font-style="italic">A</tspan>—<tspan font-style="italic">A′</tspan></text>
<line x1="2067.8" y1="828.5" x2="3119.0" y2="828.5" stroke="#ddd8d8" stroke-width="2.6"/>
<line x1="2067.8" y1="971.8" x2="3119.0" y2="971.8" stroke="#ddd8d8" stroke-width="2.6"/>
<line x1="2245.7" y1="684.7" x2="2245.7" y2="1061" stroke="#ddd8d8" stroke-width="2.6"/>
<line x1="2423" y1="684.7" x2="2423" y2="1061" stroke="#ddd8d8" stroke-width="2.6"/>
<line x1="2601.7" y1="684.7" x2="2601.7" y2="1061" stroke="#ddd8d8" stroke-width="2.6"/>
<line x1="2779.7" y1="684.7" x2="2779.7" y2="1061" stroke="#ddd8d8" stroke-width="2.6"/>
<line x1="2958.3" y1="684.7" x2="2958.3" y2="1061" stroke="#ddd8d8" stroke-width="2.6"/>
<polyline points="2067.8,703.8 2095.2,716.6 2120.7,735.7 2146.2,754.8 2171.7,777.2 2197.3,802.7 2222.8,831.4 2248.3,860.1 2272.5,888.8 2299.3,906.7 2324.8,918.8 2350.4,935.4 2375.9,944.3 2401.4,955.8 2426.9,978.1 2452.4,1002.4 2478.0,1019.6 2503.5,1033.6 2529.0,1039.4 2554.5,1042.6 2605.6,1045.1 2656.6,1047.0 2707.6,1048.3 2758.7,1045.7 2784.2,1043.2 2809.7,1039.4 2835.2,1034.9 2863.3,1029.8 2889.4,1016.4 2911.8,997.3 2937.3,974.9 2962.8,952.6 2988.3,932.2 3020.2,904.8 3045.7,883.7 3069.3,862.0 3084.0,844.1 3096.8,828.2 3106.3,809.1 3115.9,789.9" fill="none" stroke="#3a3178" stroke-width="6.8" stroke-linejoin="round" stroke-linecap="round"/>

<rect x="2067.8" y="684.7" width="1051.1999999999998" height="376.29999999999995" fill="none" stroke="#000" stroke-width="7.6"/>
<text x="2048.8" y="702.2" font-size="61" text-anchor="end">0</text>
<line x1="2067.8" y1="828.5" x2="2089.8" y2="828.5" stroke="#000" stroke-width="5.5"/>
<text x="2048.8" y="849.5" font-size="61" text-anchor="end">-5</text>
<line x1="2067.8" y1="971.8" x2="2089.8" y2="971.8" stroke="#000" stroke-width="5.5"/>
<text x="2048.8" y="992.8" font-size="61" text-anchor="end">-10</text>
<text x="2067.8" y="1130" font-size="61" text-anchor="middle">0</text>
<line x1="2245.7" y1="1061" x2="2245.7" y2="1041" stroke="#000" stroke-width="5.5"/>
<text x="2245.7" y="1130" font-size="61" text-anchor="middle">25</text>
<line x1="2423" y1="1061" x2="2423" y2="1041" stroke="#000" stroke-width="5.5"/>
<text x="2423" y="1130" font-size="61" text-anchor="middle">50</text>
<line x1="2601.7" y1="1061" x2="2601.7" y2="1041" stroke="#000" stroke-width="5.5"/>
<text x="2601.7" y="1130" font-size="61" text-anchor="middle">75</text>
<line x1="2779.7" y1="1061" x2="2779.7" y2="1041" stroke="#000" stroke-width="5.5"/>
<text x="2779.7" y="1130" font-size="61" text-anchor="middle">100</text>
<line x1="2958.3" y1="1061" x2="2958.3" y2="1041" stroke="#000" stroke-width="5.5"/>
<text x="2958.3" y="1130" font-size="61" text-anchor="middle">125</text>
<text transform="translate(1926,852) rotate(-90)" font-size="61" text-anchor="middle" ><tspan class="cn">水深</tspan>/m</text>
<text x="2580" y="1207" font-size="61" text-anchor="middle" ><tspan class="cn">距离</tspan>/m</text>
<text x="2574" y="1290" font-size="58" text-anchor="middle">(c) <tspan font-style="italic">B</tspan>—<tspan font-style="italic">B′</tspan></text>
<line x1="2067.8" y1="1466.6" x2="3119.0" y2="1466.6" stroke="#ddd8d8" stroke-width="2.6"/>
<line x1="2067.8" y1="1597.8" x2="3119.0" y2="1597.8" stroke="#ddd8d8" stroke-width="2.6"/>
<line x1="2303.8" y1="1338" x2="2303.8" y2="1715" stroke="#ddd8d8" stroke-width="2.6"/>
<line x1="2541.7" y1="1338" x2="2541.7" y2="1715" stroke="#ddd8d8" stroke-width="2.6"/>
<line x1="2777.8" y1="1338" x2="2777.8" y2="1715" stroke="#ddd8d8" stroke-width="2.6"/>
<line x1="3015" y1="1338" x2="3015" y2="1715" stroke="#ddd8d8" stroke-width="2.6"/>
<polyline points="2067.8,1351.9 2085.6,1353.8 2095.2,1379.3 2114.3,1424.0 2133.5,1471.8 2152.6,1495.4 2168.5,1532.4 2187.7,1561.1 2203.6,1583.5 2222.8,1602.6 2238.7,1626.8 2254.7,1644.1 2273.8,1653.6 2286.6,1655.6 2305.7,1647.3 2324.8,1635.8 2340.8,1630.0 2356.7,1630.7 2375.9,1642.8 2395.0,1656.8 2414.2,1676.0 2426.9,1685.5 2442.9,1691.9 2455.6,1694.5 2474.8,1693.2 2509.9,1696.4 2541.8,1697.0 2580.0,1695.7 2624.7,1690.6 2669.3,1689.4 2733.1,1684.3 2771.4,1679.2 2796.9,1674.7 2816.1,1666.4 2835.2,1653.6 2860.7,1637.7 2886.3,1620.5 2918.1,1599.4 2950.0,1570.7 2981.9,1538.8 3013.8,1503.7 3039.4,1471.8 3064.9,1436.7 3090.4,1401.6 3115.9,1369.7" fill="none" stroke="#3a3178" stroke-width="6.8" stroke-linejoin="round" stroke-linecap="round"/>
<rect x="2281.5" y="1584.7" width="126.3" height="104" rx="6" fill="none" stroke="#c9312e" stroke-width="5.6"/>
<rect x="2067.8" y="1338" width="1051.1999999999998" height="377" fill="none" stroke="#000" stroke-width="7.6"/>
<text x="2048.8" y="1355.5" font-size="61" text-anchor="end">0</text>
<line x1="2067.8" y1="1466.6" x2="2089.8" y2="1466.6" stroke="#000" stroke-width="5.5"/>
<text x="2048.8" y="1487.6" font-size="61" text-anchor="end">-10</text>
<line x1="2067.8" y1="1597.8" x2="2089.8" y2="1597.8" stroke="#000" stroke-width="5.5"/>
<text x="2048.8" y="1618.8" font-size="61" text-anchor="end">-20</text>
<text x="2064.8" y="1784" font-size="61" text-anchor="middle">0</text>
<line x1="2303.8" y1="1715" x2="2303.8" y2="1695" stroke="#000" stroke-width="5.5"/>
<text x="2309.8" y="1784" font-size="61" text-anchor="middle">50</text>
<line x1="2541.7" y1="1715" x2="2541.7" y2="1695" stroke="#000" stroke-width="5.5"/>
<text x="2541.7" y="1784" font-size="61" text-anchor="middle">100</text>
<line x1="2777.8" y1="1715" x2="2777.8" y2="1695" stroke="#000" stroke-width="5.5"/>
<text x="2786.5" y="1784" font-size="61" text-anchor="middle">150</text>
<line x1="3015" y1="1715" x2="3015" y2="1695" stroke="#000" stroke-width="5.5"/>
<text x="3015" y="1784" font-size="61" text-anchor="middle">200</text>
<text transform="translate(1926,1502) rotate(-90)" font-size="61" text-anchor="middle" ><tspan class="cn">水深</tspan>/m</text>
<text x="2580" y="1861" font-size="61" text-anchor="middle" ><tspan class="cn">距离</tspan>/m</text>
<text x="2574" y="1941" font-size="58" text-anchor="middle">(d) <tspan font-style="italic">C</tspan>—<tspan font-style="italic">C′</tspan></text>
<line x1="2067.8" y1="2129.4" x2="3119.0" y2="2129.4" stroke="#ddd8d8" stroke-width="2.6"/>
<line x1="2067.8" y1="2272.3" x2="3119.0" y2="2272.3" stroke="#ddd8d8" stroke-width="2.6"/>
<line x1="2319.7" y1="1985.5" x2="2319.7" y2="2362.5" stroke="#ddd8d8" stroke-width="2.6"/>
<line x1="2573.7" y1="1985.5" x2="2573.7" y2="2362.5" stroke="#ddd8d8" stroke-width="2.6"/>
<line x1="2827" y1="1985.5" x2="2827" y2="2362.5" stroke="#ddd8d8" stroke-width="2.6"/>
<line x1="3079.6" y1="1985.5" x2="3079.6" y2="2362.5" stroke="#ddd8d8" stroke-width="2.6"/>
<polyline points="2067.8,1999.8 2085.6,2012.6 2101.6,2029.8 2120.7,2052.8 2139.8,2082.8 2159.0,2112.8 2178.1,2142.1 2197.3,2167.6 2222.8,2199.5 2248.3,2232.7 2273.8,2265.9 2289.8,2286.9 2304.4,2302.9 2319.7,2313.7 2337.6,2319.5 2356.7,2323.3 2375.9,2330.3 2395.0,2339.2 2412.2,2345.6 2430.1,2347.5 2452.4,2345.6 2471.6,2343.7 2487.5,2340.5 2503.5,2332.9 2522.6,2330.3 2541.8,2329.7 2560.9,2331.6 2580.0,2333.5 2596.0,2332.9 2611.9,2329.7 2631.1,2322.0 2650.2,2316.3 2669.3,2311.8 2683.4,2309.9 2701.2,2313.7 2720.4,2318.8 2739.5,2320.7 2758.7,2323.9 2781.0,2329.0 2796.9,2331.6 2816.1,2333.5 2828.8,2337.3 2844.8,2327.1 2867.1,2313.1 2886.3,2303.5 2902.2,2295.2 2918.1,2281.8 2937.3,2260.8 2956.4,2246.7 2975.6,2230.1 3001.1,2200.8 3026.6,2170.2 3052.1,2140.2 3080.8,2107.0 3100.0,2079.6 3109.5,2059.2 3115.9,2041.3" fill="none" stroke="#3a3178" stroke-width="6.8" stroke-linejoin="round" stroke-linecap="round"/>

<rect x="2067.8" y="1985.5" width="1051.1999999999998" height="377.0" fill="none" stroke="#000" stroke-width="7.6"/>
<text x="2048.8" y="2003.0" font-size="61" text-anchor="end">0</text>
<line x1="2067.8" y1="2129.4" x2="2089.8" y2="2129.4" stroke="#000" stroke-width="5.5"/>
<text x="2048.8" y="2150.4" font-size="61" text-anchor="end">-10</text>
<line x1="2067.8" y1="2272.3" x2="2089.8" y2="2272.3" stroke="#000" stroke-width="5.5"/>
<text x="2048.8" y="2293.3" font-size="61" text-anchor="end">-20</text>
<text x="2064.8" y="2431.5" font-size="61" text-anchor="middle">0</text>
<line x1="2319.7" y1="2362.5" x2="2319.7" y2="2342.5" stroke="#000" stroke-width="5.5"/>
<text x="2325.7" y="2431.5" font-size="61" text-anchor="middle">50</text>
<line x1="2573.7" y1="2362.5" x2="2573.7" y2="2342.5" stroke="#000" stroke-width="5.5"/>
<text x="2573.7" y="2431.5" font-size="61" text-anchor="middle">100</text>
<line x1="2827" y1="2362.5" x2="2827" y2="2342.5" stroke="#000" stroke-width="5.5"/>
<text x="2833.5" y="2431.5" font-size="61" text-anchor="middle">150</text>
<line x1="3079.6" y1="2362.5" x2="3079.6" y2="2342.5" stroke="#000" stroke-width="5.5"/>
<text x="3077.2" y="2431.5" font-size="61" text-anchor="middle">200</text>
<text transform="translate(1926,2150) rotate(-90)" font-size="61" text-anchor="middle" ><tspan class="cn">水深</tspan>/m</text>
<text x="2580" y="2508.5" font-size="61" text-anchor="middle" ><tspan class="cn">距离</tspan>/m</text>
<text x="2575" y="2590" font-size="58" text-anchor="middle">(e) <tspan font-style="italic">D</tspan>—<tspan font-style="italic">D′</tspan></text>
</svg>
</body></html>
